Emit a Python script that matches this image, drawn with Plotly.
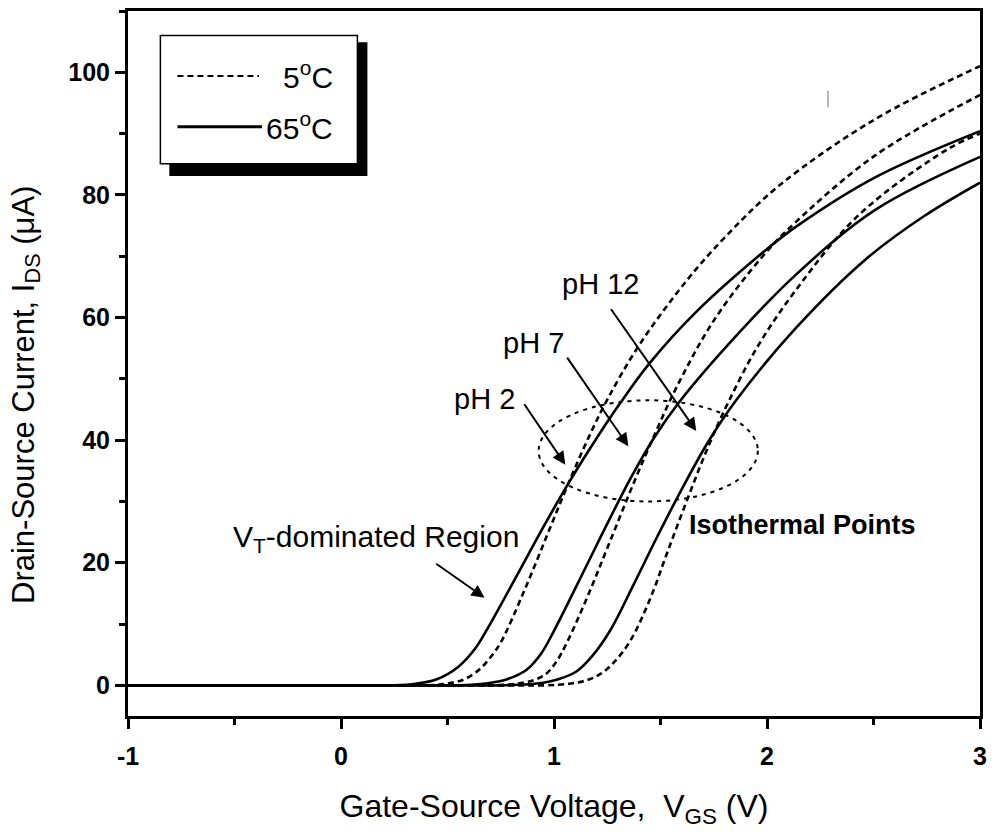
import plotly.graph_objects as go

# Gate-source voltage (V) / drain-source current (uA) for each pH buffer
# 65 C sweeps (solid)
v_ph2_65 = [-1.0, 0.0, 0.25, 0.35, 0.45, 0.55, 0.63, 0.70, 0.83, 0.94, 1.06, 1.20, 1.31, 1.45, 1.67, 1.98, 2.14, 2.51, 3.0]
i_ph2_65 = [0, 0, 0, 0.25, 1.0, 3.0, 6.0, 10.0, 18.2, 25.2, 32.5, 40.3, 46.0, 52.6, 61.0, 70.6, 74.9, 82.9, 90.4]

v_ph7_65 = [-1.0, 0.3, 0.55, 0.68, 0.78, 0.87, 0.94, 1.00, 1.107, 1.216, 1.36, 1.47, 1.59, 1.855, 2.136, 2.51, 3.0]
i_ph7_65 = [0, 0, 0, 0.3, 1.0, 2.5, 5.2, 8.9, 16.3, 24.0, 33.8, 40.4, 46.3, 57.0, 67.0, 77.6, 86.2]

v_ph12_65 = [-1.0, 0.5, 0.75, 0.92, 1.02, 1.107, 1.18, 1.263, 1.372, 1.481, 1.60, 1.72, 1.855, 2.136, 2.46, 2.74, 3.0]
i_ph12_65 = [0, 0, 0, 0.3, 1.0, 2.3, 4.8, 8.9, 16.3, 24.0, 32.0, 39.5, 46.5, 58.3, 69.4, 76.6, 82.0]

# 5 C sweeps (dashed)
v_ph2_5 = [-1.0, 0.15, 0.40, 0.50, 0.58, 0.65, 0.70, 0.75, 0.86, 0.97, 1.06, 1.15, 1.25, 1.40, 1.62, 1.80, 2.06, 2.51, 3.0]
i_ph2_5 = [0, 0, 0, 0.3, 1.0, 2.6, 4.5, 7.0, 15.4, 24.7, 32.3, 39.5, 46.6, 55.5, 65.9, 73.0, 81.6, 92.4, 101.0]

v_ph7_5 = [-1.0, 0.45, 0.70, 0.82, 0.90, 0.96, 1.01, 1.061, 1.154, 1.255, 1.38, 1.48, 1.575, 1.75, 1.98, 2.136, 2.51, 3.0]
i_ph7_5 = [0, 0, 0, 0.25, 0.8, 1.8, 3.8, 7.0, 14.2, 22.8, 33.5, 41.5, 48.6, 59.5, 70.0, 75.6, 86.5, 96.3]

v_ph12_5 = [-1.0, 0.7, 0.95, 1.08, 1.16, 1.22, 1.28, 1.357, 1.45, 1.53, 1.62, 1.72, 1.82, 1.96, 2.136, 2.43, 2.85, 3.0]
i_ph12_5 = [0, 0, 0, 0.3, 0.9, 1.9, 3.7, 7.2, 14.0, 21.5, 29.8, 38.6, 46.3, 55.5, 64.5, 76.7, 87.5, 90.0]

x_ticks = [-1, 0, 1, 2, 3]
x_ticktext = ["-1", "0", "1", "2", "3"]
y_ticks = [0, 20, 40, 60, 80, 100]

FONT = "Liberation Sans, Arial, Helvetica, sans-serif"
SOLID = dict(color="black", width=2.6)
DASHED = dict(color="black", width=2.6, dash="6px,4px")

fig = go.Figure()
series = [
    ("pH 2, 65°C", v_ph2_65, i_ph2_65, SOLID),
    ("pH 7, 65°C", v_ph7_65, i_ph7_65, SOLID),
    ("pH 12, 65°C", v_ph12_65, i_ph12_65, SOLID),
    ("pH 2, 5°C", v_ph2_5, i_ph2_5, DASHED),
    ("pH 7, 5°C", v_ph7_5, i_ph7_5, DASHED),
    ("pH 12, 5°C", v_ph12_5, i_ph12_5, DASHED),
]
for name, v, i, style in series:
    fig.add_trace(go.Scatter(x=v, y=i, mode="lines", name=name,
                             line=dict(shape="spline", smoothing=1.0, **style),
                             showlegend=False, hoverinfo="skip"))

shapes = []
# Framed legend with a drop shadow
shapes.append(dict(type="rect", xref="x", yref="y", x0=-0.806, x1=0.124, y0=83.1, y1=104.9,
                   fillcolor="black", line=dict(width=0), layer="above"))
shapes.append(dict(type="rect", xref="x", yref="y", x0=-0.848, x1=0.077, y0=85.1, y1=106.0,
                   fillcolor="white", line=dict(color="black", width=1.5), layer="above"))
shapes.append(dict(type="line", xref="x", yref="y", x0=-0.768, x1=-0.385, y0=99.4, y1=99.4,
                   line=dict(color="black", width=2.2, dash="6px,4px"), layer="above"))
shapes.append(dict(type="line", xref="x", yref="y", x0=-0.768, x1=-0.371, y0=91.1, y1=91.1,
                   line=dict(color="black", width=3), layer="above"))
# Dotted ring around the isothermal crossing points
shapes.append(dict(type="circle", xref="x", yref="y", x0=0.928, x1=1.957, y0=30.0, y1=46.5,
                   line=dict(color="black", width=2, dash="4px,5px"), layer="above"))
# small stray mark
shapes.append(dict(type="line", xref="x", yref="y", x0=2.286, x1=2.286, y0=94.3, y1=97.0,
                   line=dict(color="#8a8a8a", width=1.2), layer="above"))

annotations = [
    dict(x=-0.026, y=99.6, text="5<sup>o</sup>C", xanchor="right", yanchor="middle",
         font=dict(size=30), showarrow=False),
    dict(x=-0.026, y=91.3, text="65<sup>o</sup>C", xanchor="right", yanchor="middle",
         font=dict(size=30), showarrow=False),
    dict(x=0.675, y=46.7, text="pH 2", font=dict(size=29), showarrow=False),
    dict(x=0.904, y=55.9, text="pH 7", font=dict(size=29), showarrow=False),
    dict(x=1.217, y=65.5, text="pH 12", font=dict(size=29), showarrow=False),
    dict(x=-0.516, y=24.0, text="V<sub>T</sub>-dominated Region", xanchor="left",
         font=dict(size=30), showarrow=False),
    dict(x=1.624, y=26.1, text="<b>Isothermal Points</b>", xanchor="left",
         font=dict(size=27), showarrow=False),
    # vertical axis title
    dict(xref="paper", yref="paper", x=-0.12, y=0.455, textangle=-90,
         text="Drain-Source Current, I<sub>DS</sub> (μA)", font=dict(size=31),
         xanchor="center", yanchor="middle", showarrow=False),
]
arrows = [
    ((0.856, 46.1), (1.053, 36.0)),
    ((1.057, 53.7), (1.349, 39.0)),
    ((1.263, 61.6), (1.668, 41.5)),
    ((0.440, 20.0), (0.674, 14.3)),
]
for (tx, ty), (hx, hy) in arrows:
    annotations.append(dict(x=hx, y=hy, ax=tx, ay=ty, xref="x", yref="y", axref="x", ayref="y",
                            text="", showarrow=True, arrowhead=2, arrowsize=1.3,
                            arrowwidth=2, arrowcolor="black"))

fig.update_layout(
    width=995, height=839,
    margin=dict(l=128, r=10, t=8, b=123),
    paper_bgcolor="white", plot_bgcolor="white",
    font=dict(family=FONT, color="black"),
    shapes=shapes, annotations=annotations,
    showlegend=False,
)
fig.update_xaxes(
    range=[-1, 3], tickvals=x_ticks, ticktext=x_ticktext,
    showgrid=False, zeroline=False,
    showline=True, linecolor="black", linewidth=3, mirror=True,
    ticks="outside", ticklen=10, tickwidth=2.5, tickcolor="black",
    minor=dict(ticks="outside", ticklen=6, tickwidth=2.5, dtick=0.5, tickcolor="black", showgrid=False),
    tickfont=dict(size=25, weight="bold"), ticklabelstandoff=6,
    title=dict(text="Gate-Source Voltage,  V<sub>GS</sub> (V)", font=dict(size=32), standoff=26),
)
fig.update_yaxes(
    range=[-5, 110], tickvals=y_ticks,
    showgrid=False, zeroline=False,
    showline=True, linecolor="black", linewidth=3, mirror=True,
    ticks="outside", ticklen=10, tickwidth=2.5, tickcolor="black",
    minor=dict(ticks="outside", ticklen=6, tickwidth=2.5, dtick=10, tickcolor="black", showgrid=False),
    tickfont=dict(size=25, weight="bold"),
)

fig.write_html("out.html")
